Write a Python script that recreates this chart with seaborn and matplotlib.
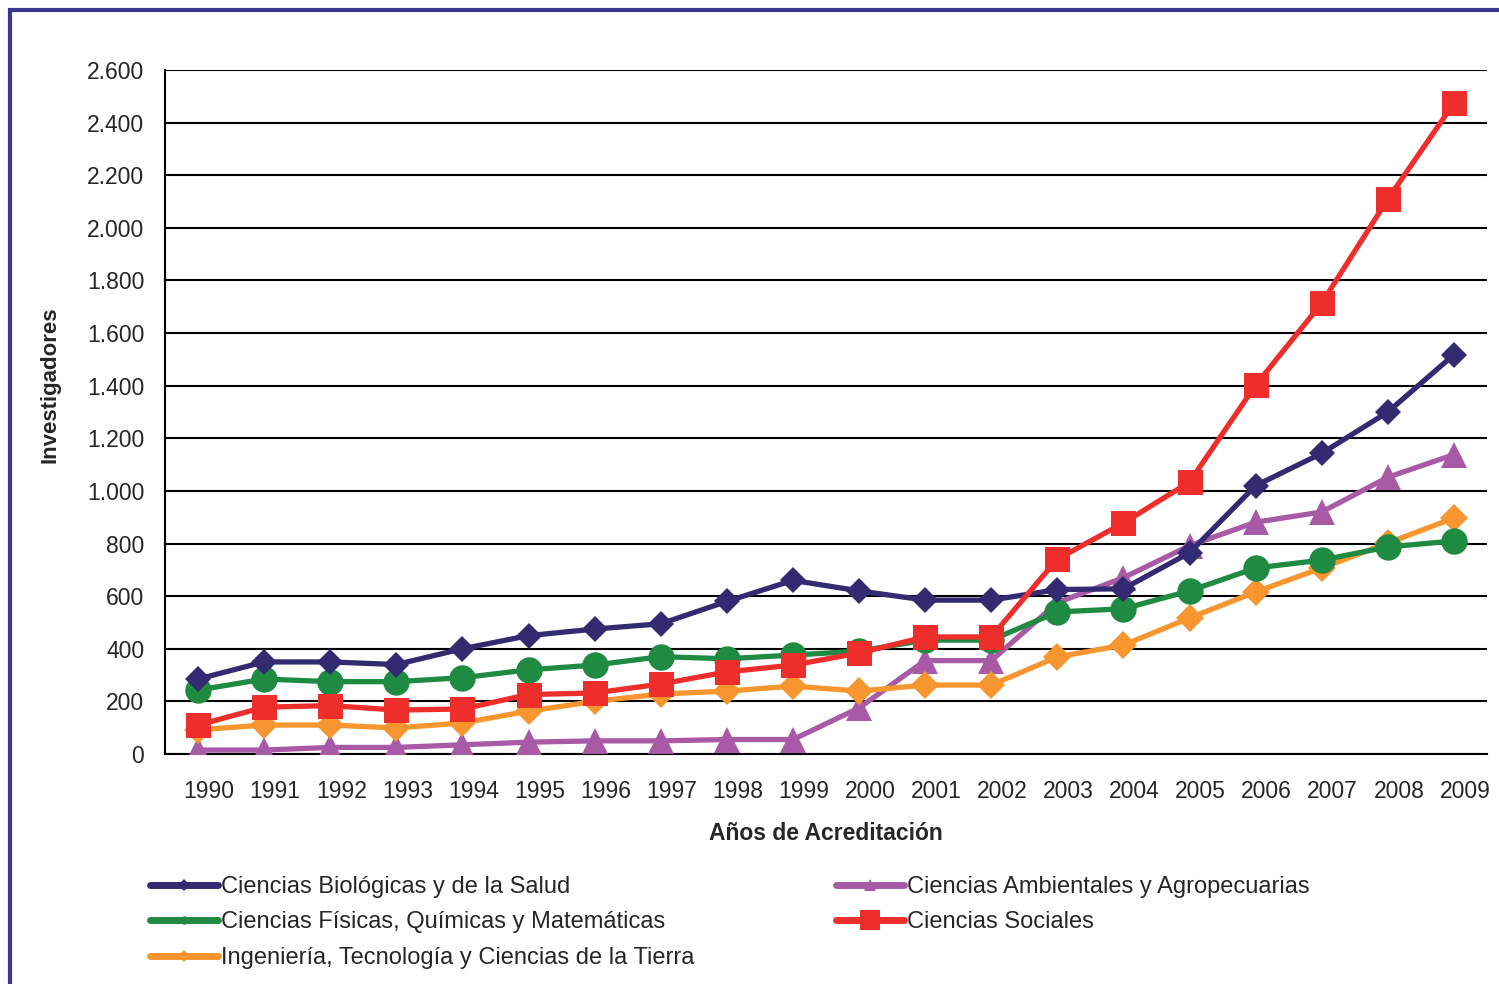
import matplotlib
matplotlib.use("Agg")
import matplotlib.pyplot as plt
import matplotlib.ticker as mticker
from matplotlib.lines import Line2D
from matplotlib.patches import Rectangle
import matplotlib.transforms as mtransforms
import seaborn as sns
import pandas as pd

years = [str(y) for y in range(1990, 2010)]

biologicas = [285, 350, 350, 340, 400, 450, 475, 495, 580, 660, 620, 585, 585, 625, 628, 765, 1020, 1143, 1300, 1518]
fisicas = [243, 285, 275, 275, 290, 320, 338, 370, 362, 376, 391, 433, 433, 540, 552, 620, 707, 737, 787, 810]
ingenieria = [92, 110, 110, 99, 118, 163, 200, 228, 239, 258, 239, 262, 262, 369, 414, 517, 616, 707, 802, 897]
ambientales = [15, 15, 25, 25, 35, 45, 50, 50, 55, 55, 175, 355, 355, 575, 670, 792, 881, 920, 1052, 1138]
sociales = [110, 178, 184, 167, 171, 226, 232, 266, 312, 338, 384, 445, 445, 741, 878, 1034, 1402, 1714, 2109, 2474]

labels = [
    "Ciencias Biológicas y de la Salud",
    "Ciencias Físicas, Químicas y Matemáticas",
    "Ingeniería, Tecnología y Ciencias de la Tierra",
    "Ciencias Ambientales y Agropecuarias",
    "Ciencias Sociales",
]
yticks = [0, 200, 400, 600, 800, 1000, 1200, 1400, 1600, 1800, 2000, 2200, 2400, 2600]

series = [biologicas, fisicas, ingenieria, ambientales, sociales]
colors = ["#322b72", "#1f8a42", "#f7952f", "#a95aa7", "#ee2e2b"]
markers = ["D", "o", "D", "^", "s"]
msizes = [13, 19, 14.5, 19, 18]
leg_msizes = [6, 6, 6, 9, 15]
order = [3, 2, 1, 0, 4]

sns.set_style("white")
plt.rcParams["font.family"] = ["Liberation Sans", "DejaVu Sans"]

fig = plt.figure(figsize=(14.99, 9.84), dpi=100)
ax = fig.add_axes([165 / 1499, 1 - 754 / 984, (1487 - 165) / 1499, (754 - 70) / 984])

xpos = list(range(len(years)))
for i in order:
    df = pd.DataFrame({"x": xpos, "y": series[i]})
    sns.lineplot(data=df, x="x", y="y", ax=ax, color=colors[i], marker=markers[i],
                 markersize=msizes[i], markeredgecolor=colors[i], markeredgewidth=0,
                 linewidth=3.8, legend=False, zorder=3)

ax.set_xlim(-0.5, len(years) - 0.5)
ax.set_ylim(0, 2600)
ax.set_yticks(yticks)
ax.yaxis.set_major_formatter(mticker.FuncFormatter(lambda v, p: f"{int(v):,}".replace(",", ".")))
ax.grid(axis="y", color="black", linewidth=1.5)
ax.grid(axis="x", visible=False)
ax.set_axisbelow(True)

ax.set_xticks(xpos)
ax.set_xticklabels(years)
ax.set_xticks([x - 0.5 for x in range(len(years) + 1)], minor=True)
ax.tick_params(axis="x", which="major", length=0, pad=19, labelsize=16.5)
ax.tick_params(axis="x", which="minor", length=7, width=1.5, direction="out", color="black")
ax.tick_params(axis="y", which="major", length=7, width=1.5, direction="out", color="black", labelsize=16.5, pad=8)
offset = mtransforms.ScaledTranslation(11 / 100, 0, fig.dpi_scale_trans)
for lbl in ax.get_xticklabels():
    lbl.set_transform(lbl.get_transform() + offset)

for s in ["top", "right"]:
    ax.spines[s].set_visible(False)
for s in ["left", "bottom"]:
    ax.spines[s].set_color("black")
    ax.spines[s].set_linewidth(1.5)

ax.set_xlabel("Años de Acreditación", fontsize=16.5, fontweight="bold")
ax.xaxis.set_label_coords(0.5, -0.1)
ax.set_ylabel("Investigadores", fontsize=16, fontweight="bold", va="center")
ax.yaxis.set_label_coords(-0.087, 0.54)

handles = [Line2D([0], [0], color=colors[i], linewidth=5, marker=markers[i],
                  markersize=leg_msizes[i], markeredgewidth=0) for i in range(5)]
fig.legend(handles, labels, ncol=2, loc="upper left",
           bbox_to_anchor=(150 / 1499, 1 - 876 / 984), frameon=False,
           fontsize=17, handlelength=2.9, handletextpad=0.1,
           columnspacing=6.0, labelspacing=0.57, borderpad=0, borderaxespad=0)

fig.patches.append(Rectangle((10 / 1499, -0.05), 1.2, 0.05 + 1 - 10 / 984,
                             transform=fig.transFigure, fill=False,
                             edgecolor="#3d3592", linewidth=3, zorder=10))

fig.savefig("out.png", dpi=100)
